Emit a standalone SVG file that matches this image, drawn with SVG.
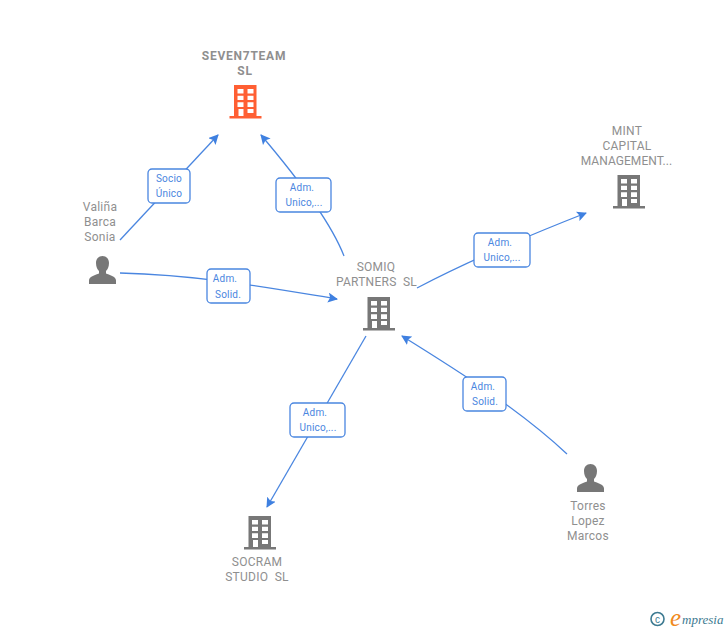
<svg xmlns="http://www.w3.org/2000/svg" width="728" height="630" viewBox="0 0 728 630">
<style>
.n{font-family:Roboto,"Liberation Sans",sans-serif;font-size:12px;fill:#8f8f8f;text-anchor:middle;letter-spacing:.25px;white-space:pre}
.b{font-weight:700;letter-spacing:.75px}
.t{letter-spacing:.05px}
.l{font-family:Roboto,"Liberation Sans",sans-serif;font-size:10px;fill:#4a86e0;text-anchor:middle;letter-spacing:.2px}
.c{fill:none;stroke:#4a86e0;stroke-width:1.300}
.box{fill:#fff;stroke:#4a86e0;stroke-width:1.300}
.g{fill:#777}
</style>
<defs>
<marker id="a" viewBox="0 0 10 10" refX="9" refY="5" markerWidth="10" markerHeight="10" markerUnits="userSpaceOnUse" orient="auto"><path d="M0 0L10 5L0 10L2 5Z" fill="#3f80e0"/></marker>
<path id="bld" fill-rule="evenodd" d="M4.500 0H27V31H32V33.500H0V31H4.500ZM8 4V8.500H14V4ZM18 4V8.500H24V4ZM8 10.700V15H14V10.700ZM18 10.700V15H24V10.700ZM8 17.300V22H14V17.300ZM18 17.300V22H24V17.300ZM9 24V31H14V24ZM18 24V28H24V24Z"/>
<path id="per" d="M13.500 0C17.500 0 20 3 20 7C20 11 18.500 13.500 17 15V17.500C20 19 27 20 27 24.500V28H0V24.500C0 20 7 19 10 17.500V15C8.500 13.500 7 11 7 7C7 3 9.500 0 13.500 0Z"/>
</defs>
<g id="connectors">
<path class="c" marker-end="url(#a)" d="M120 240L218 135"/>
<path class="c" marker-end="url(#a)" d="M344 256C330 220 295 175 261 135"/>
<path class="c" marker-end="url(#a)" d="M120 273C200 275 270 288 337 299"/>
<path class="c" marker-end="url(#a)" d="M417 288C470 260 530 235 586 213"/>
<path class="c" marker-end="url(#a)" d="M366 336L267 507"/>
<path class="c" marker-end="url(#a)" d="M567 454C520 410 460 372 402 336"/>
</g>
<g id="label-socio"><rect class="box" x="148" y="169" width="42" height="34" rx="4"/><text class="l" x="169" y="182">Socio</text><text class="l" x="169" y="197">Único</text></g>
<g id="label-adm1"><rect class="box" x="276" y="178" width="55" height="34" rx="4"/><text class="l" x="302" y="191">Adm.</text><text class="l" x="304" y="206">Unico,...</text></g>
<g id="label-adm2"><rect class="box" x="207" y="269" width="43" height="34" rx="4"/><text class="l" x="225" y="282">Adm.</text><text class="l" x="228" y="298">Solid.</text></g>
<g id="label-adm3"><rect class="box" x="474" y="233" width="56" height="34" rx="4"/><text class="l" x="500" y="246">Adm.</text><text class="l" x="502" y="261">Unico,...</text></g>
<g id="label-adm4"><rect class="box" x="290" y="403" width="55" height="34" rx="4"/><text class="l" x="315" y="416">Adm.</text><text class="l" x="318" y="431">Unico,...</text></g>
<g id="label-adm5"><rect class="box" x="463" y="377" width="43" height="34" rx="4"/><text class="l" x="483" y="390">Adm.</text><text class="l" x="485" y="405">Solid.</text></g>
<g id="seven7team"><text class="n b" x="244" y="60">SEVEN7TEAM</text><text class="n b" x="245" y="75">SL</text><use href="#bld" x="229.500" y="85" fill="#ff5f33"/></g>
<g id="mint"><text class="n" x="627" y="135">MINT</text><text class="n" x="627" y="150">CAPITAL</text><text class="n t" x="626.500" y="165">MANAGEMENT...</text><use href="#bld" x="613" y="175" class="g"/></g>
<g id="somiq"><text class="n" x="376" y="271">SOMIQ</text><text class="n" x="376.500" y="286">PARTNERS  SL</text><use href="#bld" x="363" y="297" class="g"/></g>
<g id="socram"><text class="n" x="257" y="566">SOCRAM</text><text class="n" x="257" y="581">STUDIO  SL</text><use href="#bld" x="244" y="516" class="g"/></g>
<g id="valina"><text class="n" x="100" y="211">Valiña</text><text class="n" x="100" y="226">Barca</text><text class="n" x="100" y="241">Sonia</text><use href="#per" x="89" y="256" class="g"/></g>
<g id="torres"><text class="n" x="588" y="510">Torres</text><text class="n" x="588" y="525">Lopez</text><text class="n" x="588" y="540">Marcos</text><use href="#per" x="577" y="464" class="g"/></g>
<g id="logo"><circle cx="657.500" cy="619" r="6.500" fill="none" stroke="#3d7a91" stroke-width="1.600"/><text x="657.500" y="622.500" font-family="Liberation Sans,sans-serif" font-size="10" fill="#3d7a91" text-anchor="middle">c</text><text x="670" y="626" font-family="Liberation Serif,serif" font-style="italic" font-size="25" fill="#f08a1d">e</text><text x="682" y="624" font-family="Liberation Serif,serif" font-style="italic" font-size="13" fill="#3d7a91">mpresia</text></g>
</svg>
